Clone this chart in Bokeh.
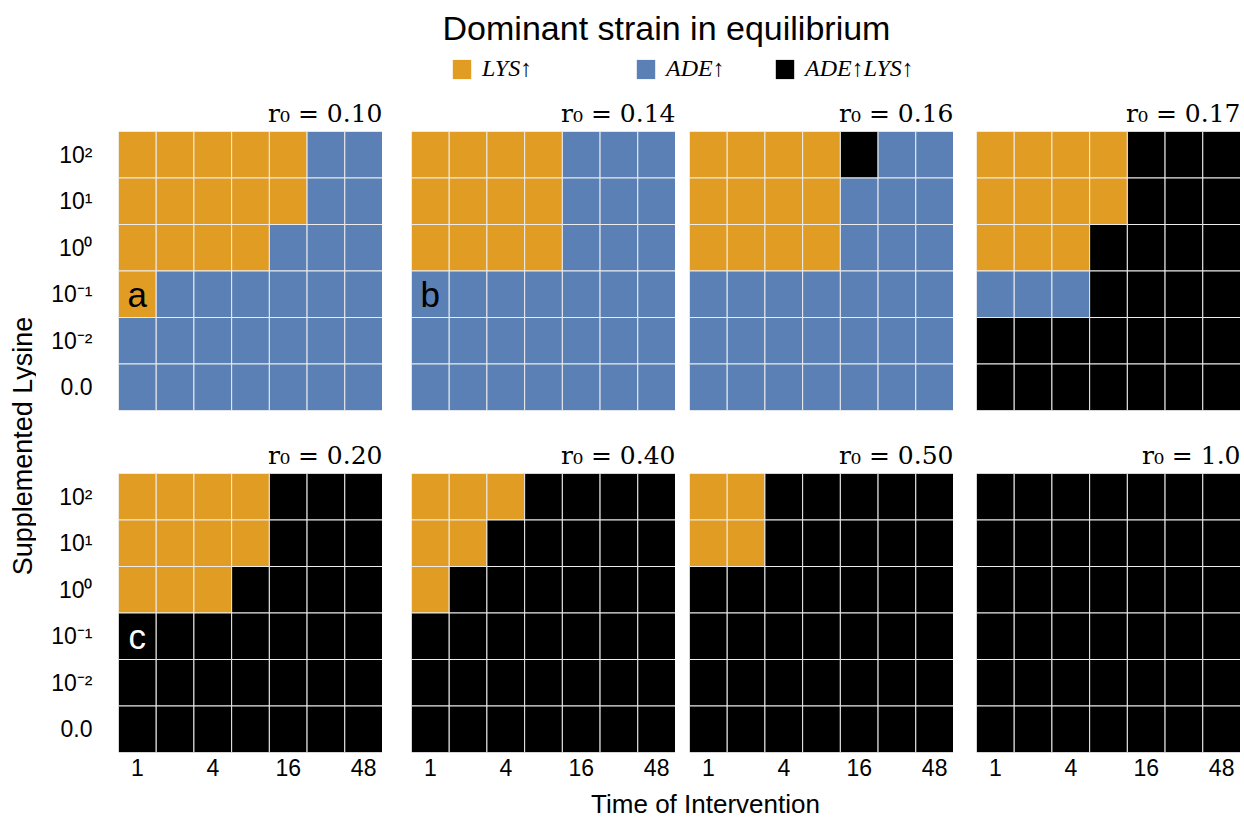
import math
import numpy as np
from bokeh.plotting import figure
from bokeh.layouts import column, row
from bokeh.models import Range1d, FixedTicker, Label, Legend, LegendItem, ColumnDataSource
from bokeh.embed import file_html
from bokeh.resources import INLINE

# ---------------- data ----------------
title_text = "Dominant strain in equilibrium"
x_axis_title = "Time of Intervention"
y_axis_title = "Supplemented Lysine"

time_tick_columns = [0, 2, 4, 6]
time_tick_labels = ["1", "4", "16", "48"]
n_time_points = 7

lysine_labels = ["0.0", "10⁻²", "10⁻¹", "10⁰", "10¹", "10²"]  # bottom -> top

r0_values = ["0.10", "0.14", "0.16", "0.17", "0.20", "0.40", "0.50", "1.0"]

strain_codes = ["L", "A", "B"]
strain_names = ["LYS↑", "ADE↑", "ADE↑LYS↑"]
strain_colors = ["#E19C24", "#5B80B5", "#000000"]

# each grid: rows from 10^2 (top) down to 0.0 (bottom); columns = time points
grid_r0_010 = ["LLLLLAA", "LLLLLAA", "LLLLAAA", "LAAAAAA", "AAAAAAA", "AAAAAAA"]
grid_r0_014 = ["LLLLAAA", "LLLLAAA", "LLLLAAA", "AAAAAAA", "AAAAAAA", "AAAAAAA"]
grid_r0_016 = ["LLLLBAA", "LLLLAAA", "LLLLAAA", "AAAAAAA", "AAAAAAA", "AAAAAAA"]
grid_r0_017 = ["LLLLBBB", "LLLLBBB", "LLLBBBB", "AAABBBB", "BBBBBBB", "BBBBBBB"]
grid_r0_020 = ["LLLLBBB", "LLLLBBB", "LLLBBBB", "BBBBBBB", "BBBBBBB", "BBBBBBB"]
grid_r0_040 = ["LLLBBBB", "LLBBBBB", "LBBBBBB", "BBBBBBB", "BBBBBBB", "BBBBBBB"]
grid_r0_050 = ["LLBBBBB", "LLBBBBB", "BBBBBBB", "BBBBBBB", "BBBBBBB", "BBBBBBB"]
grid_r0_100 = ["BBBBBBB", "BBBBBBB", "BBBBBBB", "BBBBBBB", "BBBBBBB", "BBBBBBB"]

grids = [grid_r0_010, grid_r0_014, grid_r0_016, grid_r0_017,
         grid_r0_020, grid_r0_040, grid_r0_050, grid_r0_100]

panel_letters = ["a", "b", None, None, "c", None, None, None]
panel_letter_colors = ["black", "black", None, None, "white", None, None, None]

# ---------------- layout / style ----------------
SANS = "Liberation Sans"
SERIF = "Liberation Serif"
MATH = "DejaVu Serif"
FW, FH = 264, 279
LEFT_BORDERS = [82, 29, 14, 23]
TOP_BORDER = 40
BOTTOM_BORDERS = [23, 34]
HEADER_H = 91
TOTAL_W = 1240
TOTAL_H = 820
color_of = dict(zip(strain_codes, strain_colors))


def make_panel(idx):
    grid = grids[idx]
    col, rw = idx % 4, idx // 4
    nrows = len(grid)
    xs, ys, cs = [], [], []
    for i, line in enumerate(grid):
        for j, ch in enumerate(line):
            xs.append(j)
            ys.append(nrows - 1 - i)
            cs.append(color_of[ch])
    src = ColumnDataSource(dict(x=xs, y=ys, c=cs))
    p = figure(frame_width=FW, frame_height=FH,
               x_range=Range1d(-0.5, n_time_points - 0.5),
               y_range=Range1d(-0.5, len(lysine_labels) - 0.5),
               x_axis_location="below" if rw == 1 else None,
               y_axis_location="left" if col == 0 else None,
               toolbar_location=None, output_backend="svg",
               min_border_left=LEFT_BORDERS[col], min_border_right=0,
               min_border_top=TOP_BORDER, min_border_bottom=BOTTOM_BORDERS[rw],
               title="r₀ = " + r0_values[idx])
    p.rect(x="x", y="y", width=1, height=1, fill_color="c", line_color="#ececec",
           line_width=1, source=src)
    p.outline_line_color = None
    p.grid.visible = False
    p.title.align = "right"
    p.title.text_font = MATH
    p.title.text_font_style = "normal"
    p.title.text_font_size = "25px"
    p.title.text_color = "black"
    p.title.standoff = 8
    if rw == 1:
        ax = p.xaxis[0]
        ax.ticker = FixedTicker(ticks=time_tick_columns)
        ax.major_label_overrides = {t: l for t, l in zip(time_tick_columns, time_tick_labels)}
        ax.axis_line_color = None
        ax.major_tick_line_color = None
        ax.minor_tick_line_color = None
        ax.major_tick_out = 0
        ax.major_tick_in = 0
        ax.major_label_standoff = 6
        ax.major_label_text_font = SANS
        ax.major_label_text_font_size = "23px"
        ax.major_label_text_color = "black"
    if col == 0:
        ay = p.yaxis[0]
        ay.ticker = FixedTicker(ticks=list(range(len(lysine_labels))))
        ay.major_label_overrides = {i: l for i, l in enumerate(lysine_labels)}
        ay.axis_line_color = None
        ay.major_tick_line_color = None
        ay.minor_tick_line_color = None
        ay.major_tick_out = 0
        ay.major_tick_in = 0
        ay.major_label_standoff = 26
        ay.major_label_text_font = SANS
        ay.major_label_text_font_size = "23px"
        ay.major_label_text_color = "black"
    if panel_letters[idx]:
        p.add_layout(Label(x=0, y=2, text=panel_letters[idx], text_align="center",
                           text_baseline="middle", text_font=SANS, text_font_size="35px",
                           text_color=panel_letter_colors[idx]))
    return p


panels = [make_panel(i) for i in range(8)]

# header: title + legend
header = figure(width=TOTAL_W, height=HEADER_H, x_range=Range1d(0, TOTAL_W),
                y_range=Range1d(0, HEADER_H),
                x_axis_location=None, y_axis_location=None, min_border=0,
                toolbar_location=None, output_backend="svg")
header.outline_line_color = None
header.grid.visible = False
header.add_layout(Label(x=666, y=64, text=title_text, text_align="center",
                        text_baseline="middle", text_font=SANS, text_font_size="34px",
                        text_color="black"))
legend_x = [450, 634, 773]
for name, colr, lx in zip(strain_names, strain_colors, legend_x):
    proxy = header.rect(x=np.array([np.nan]), y=np.array([np.nan]), width=1, height=1,
                        fill_color=colr, line_color=None)
    lg = Legend(items=[LegendItem(label=name, renderers=[proxy])], location=(lx, 9),
                orientation="horizontal", padding=0, margin=0, border_line_color=None,
                background_fill_alpha=0, glyph_width=23, glyph_height=24,
                label_height=24, label_standoff=9, label_text_font=SERIF,
                label_text_font_style="italic", label_text_font_size="24px",
                label_text_color="black")
    header.add_layout(lg, "center")

# y-axis title column
YW = 36
YH = (TOP_BORDER + FH + BOTTOM_BORDERS[0]) + (TOP_BORDER + FH + BOTTOM_BORDERS[1])
ylab = figure(width=YW, height=YH, x_range=Range1d(0, 1), y_range=Range1d(0, 1),
              x_axis_location=None, y_axis_location=None, min_border=0,
              toolbar_location=None, output_backend="svg")
ylab.outline_line_color = None
ylab.grid.visible = False
ylab.add_layout(Label(x=22 / YW, y=0.49, text=y_axis_title, angle=math.pi / 2,
                      text_align="center", text_baseline="middle", text_font=SANS,
                      text_font_size="27px", text_color="black"))

# x-axis title row
XH = TOTAL_H - HEADER_H - YH
xlab = figure(width=TOTAL_W, height=XH, x_range=Range1d(0, TOTAL_W), y_range=Range1d(0, XH),
              x_axis_location=None, y_axis_location=None, min_border=0,
              toolbar_location=None, output_backend="svg")
xlab.outline_line_color = None
xlab.grid.visible = False
xlab.add_layout(Label(x=705, y=XH / 2, text=x_axis_title, text_align="center",
                      text_baseline="middle", text_font=SANS, text_font_size="26px",
                      text_color="black"))

layout = column(header,
                row(ylab, column(row(*panels[:4]), row(*panels[4:]))),
                xlab)

open("out.html", "w").write(file_html(layout, INLINE))
